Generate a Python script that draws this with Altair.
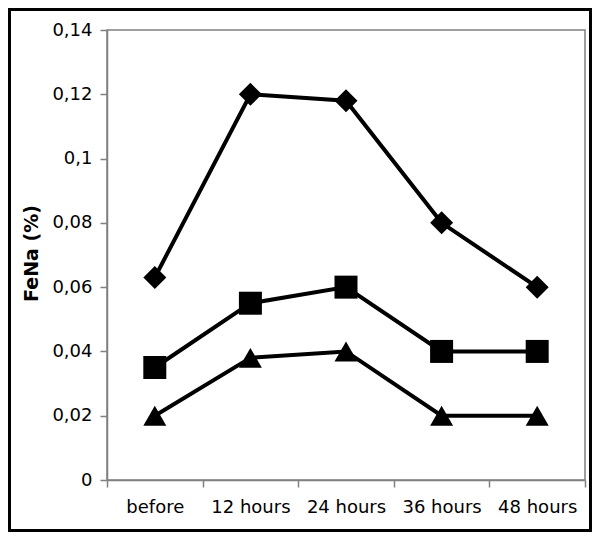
import altair as alt
import pandas as pd

categories = ["before", "12 hours", "24 hours", "36 hours", "48 hours"]
diamond_values = [0.063, 0.12, 0.118, 0.08, 0.06]
square_values = [0.035, 0.055, 0.06, 0.04, 0.04]
triangle_values = [0.02, 0.038, 0.04, 0.02, 0.02]
series_names = ["Diamond", "Square", "Triangle"]
series_shapes = ["diamond", "square", "triangle-up"]
series_sizes = [529, 529, 576]
y_ticks = [0, 0.02, 0.04, 0.06, 0.08, 0.10, 0.12, 0.14]

rows = []
for name, vals in zip(series_names, [diamond_values, square_values, triangle_values]):
    for c, v in zip(categories, vals):
        rows.append({"time": c, "series": name, "value": v})
df = pd.DataFrame(rows)

FONT = "DejaVu Sans"
GRAY = "#808080"

x_enc = alt.X(
    "time:N",
    sort=categories,
    scale=alt.Scale(type="band", paddingInner=0, paddingOuter=0),
    bandPosition=0.5,
    axis=alt.Axis(
        title=None,
        tickBand="extent",
        labelAngle=0,
        tickSize=7,
        labelPadding=11,
        labelFontSize=18,
        labelFont=FONT,
        labelColor="black",
        domainColor=GRAY,
        tickColor=GRAY,
        domainWidth=1.5,
        tickWidth=1.5,
    ),
)
y_enc = alt.Y(
    "value:Q",
    scale=alt.Scale(domain=[0, 0.14], nice=False),
    axis=alt.Axis(
        values=y_ticks,
        grid=False,
        labelExpr="replace(format(datum.value, '~g'), '.', ',')",
        tickSize=7,
        labelPadding=8,
        labelFontSize=18,
        labelFont=FONT,
        labelColor="black",
        domainColor=GRAY,
        tickColor=GRAY,
        domainWidth=1.5,
        tickWidth=1.5,
        title="FeNa (%)",
        titleFont=FONT,
        titleFontSize=19,
        titleFontWeight="bold",
        titleColor="black",
        titleAngle=270,
        titleAlign="center",
        titleBaseline="middle",
        titleX=-76,
        titleY=223,
    ),
)

lines = alt.Chart(df).mark_line(color="black", strokeWidth=4).encode(
    x=x_enc, y=y_enc, detail="series:N"
)
points = alt.Chart(df).mark_point(filled=True, color="black", opacity=1).encode(
    x=x_enc,
    y=y_enc,
    shape=alt.Shape("series:N", scale=alt.Scale(domain=series_names, range=series_shapes), legend=None),
    size=alt.Size("series:N", scale=alt.Scale(domain=series_names, range=series_sizes), legend=None),
)
border = alt.Chart(pd.DataFrame({"a": [0]})).mark_rect(
    filled=False, stroke="black", strokeWidth=3
).encode(
    x=alt.value(-97.5), x2=alt.value(483.5), y=alt.value(-20.5), y2=alt.value(500.5)
)

chart = (
    alt.layer(lines, points, border)
    .properties(
        width=478,
        height=450,
        autosize=alt.AutoSizeParams(type="none"),
        padding={"left": 99, "top": 22, "right": 7, "bottom": 52},
        background="white",
    )
    .configure_view(stroke=GRAY, strokeWidth=1.5)
)

chart.save("out.html", embed_options={"renderer": "svg", "actions": False})
